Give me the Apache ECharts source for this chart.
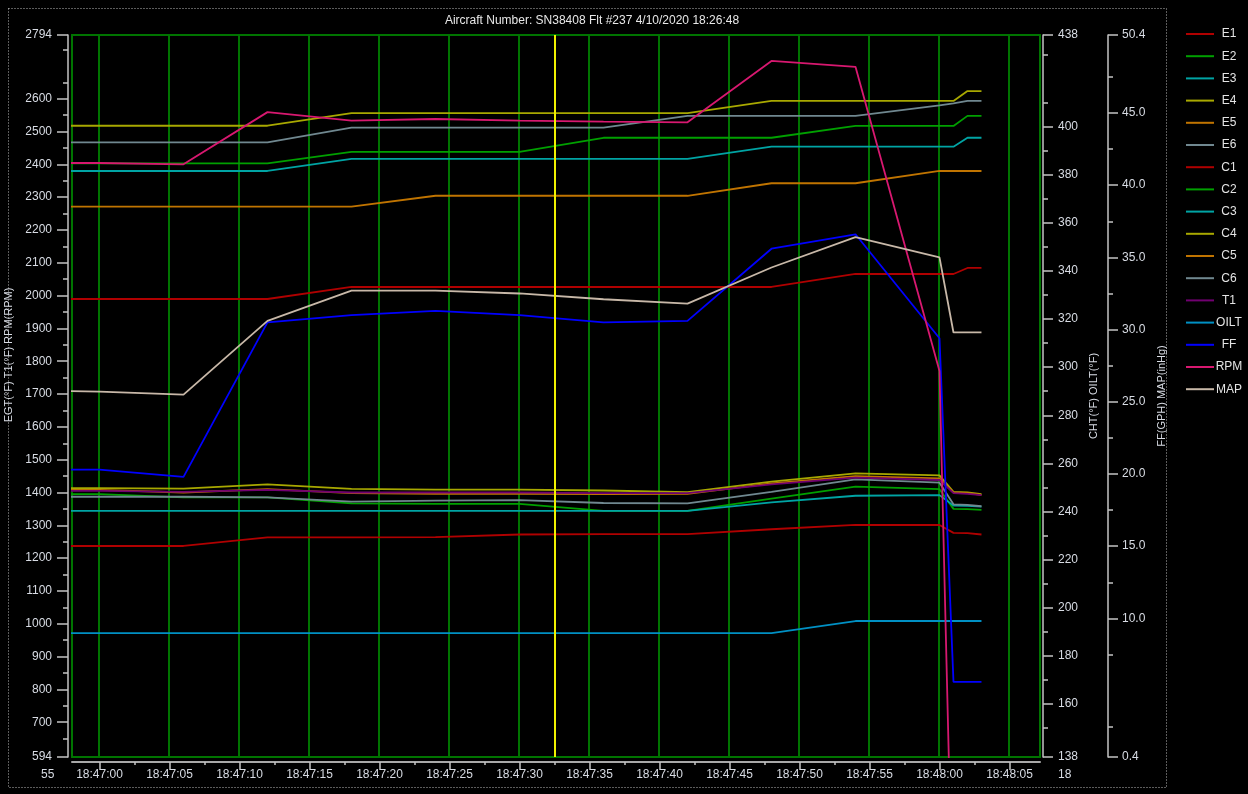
<!DOCTYPE html>
<html>
<head>
<meta charset="utf-8">
<title>Aircraft Number: SN38408 Flt #237</title>
<script src="https://cdn.jsdelivr.net/npm/echarts@6/dist/echarts.min.js"></script>
<style>
  html, body { margin: 0; padding: 0; background: #000; }
  #chart { width: 1248px; height: 794px; }
</style>
</head>
<body>
<div id="chart"></div>
<script>
// Datos: segundos desde 18:47:00
const times = [-6, 0, 6, 12, 18, 24, 30, 36, 42, 48, 54, 60, 61, 62, 63];

// EGT (°F) - eje izquierdo
const E1 = [1237, 1237, 1237, 1263, 1263, 1264, 1272, 1273, 1273, 1288, 1301, 1301, 1277, 1276, 1272];
const E2 = [1395, 1395, 1385, 1385, 1367, 1365, 1365, 1344, 1344, 1381, 1418, 1410, 1350, 1349, 1347];
const E3 = [1344, 1344, 1344, 1344, 1344, 1344, 1344, 1344, 1344, 1370, 1390, 1392, 1360, 1359, 1357];
const E4 = [1413, 1413, 1412, 1425, 1411, 1409, 1409, 1406, 1401, 1433, 1458, 1452, 1402, 1400, 1395];
const E5 = [1408, 1408, 1400, 1410, 1398, 1396, 1396, 1395, 1396, 1428, 1450, 1443, 1400, 1398, 1393];
const E6 = [1387, 1387, 1387, 1385, 1372, 1375, 1377, 1368, 1367, 1402, 1440, 1430, 1364, 1362, 1358];

// CHT (°F) - primer eje derecho
const C1 = [328.3, 328.3, 328.3, 328.3, 333.3, 333.3, 333.3, 333.3, 333.3, 333.3, 338.7, 338.7, 338.7, 341.2, 341.2];
const C2 = [384.7, 384.7, 384.7, 384.7, 389.4, 389.4, 389.4, 395.3, 395.3, 395.3, 400.2, 400.2, 400.2, 404.4, 404.4];
const C3 = [381.5, 381.5, 381.5, 381.5, 386.5, 386.5, 386.5, 386.5, 386.5, 391.6, 391.6, 391.6, 391.6, 395.3, 395.3];
const C4 = [400.3, 400.3, 400.3, 400.3, 405.5, 405.5, 405.5, 405.5, 405.5, 410.6, 410.6, 410.6, 410.6, 414.7, 414.7];
const C5 = [366.7, 366.7, 366.7, 366.7, 366.7, 371.2, 371.2, 371.2, 371.2, 376.4, 376.4, 381.5, 381.5, 381.5, 381.5];
const C6 = [393.4, 393.4, 393.4, 393.4, 399.5, 399.5, 399.5, 399.5, 404.4, 404.4, 404.4, 408.8, 409.6, 410.6, 410.6];

// T1 (°F), RPM - eje izquierdo
const T1 = [1405, 1405, 1402, 1408, 1400, 1400, 1400, 1398, 1398, 1425, 1445, 1438, 1398, 1396, 1392];
const RPM = [2404, 2404, 2400, 2559, 2533, 2538, 2533, 2530, 2528, 2715, 2697, 1770, 0, 0, 0];

// OILT (°F) - primer eje derecho
const OILT = [189.5, 189.5, 189.5, 189.5, 189.5, 189.5, 189.5, 189.5, 189.5, 189.5, 194.5, 194.5, 194.5, 194.5, 194.5];

// FF (GPH), MAP (inHg) - segundo eje derecho
const FF = [20.3, 20.3, 19.8, 30.5, 31.0, 31.3, 31.0, 30.5, 30.6, 35.6, 36.6, 29.4, 5.6, 5.6, 5.6];
const MAP = [25.8, 25.7, 25.5, 30.6, 32.7, 32.7, 32.5, 32.1, 31.8, 34.3, 36.4, 35.0, 29.8, 29.8, 29.8];

// Marcas de ejes
const xMajor = [0, 5, 10, 15, 20, 25, 30, 35, 40, 45, 50, 55, 60, 65];
const xMinor = [2.5, 7.5, 12.5, 17.5, 22.5, 27.5, 32.5, 37.5, 42.5, 47.5, 52.5, 57.5, 62.5];
const leftLabels = [594, 700, 800, 900, 1000, 1100, 1200, 1300, 1400, 1500, 1600, 1700, 1800, 1900, 2000, 2100, 2200, 2300, 2400, 2500, 2600, 2794];
const leftMinor = [650, 750, 850, 950, 1050, 1150, 1250, 1350, 1450, 1550, 1650, 1750, 1850, 1950, 2050, 2150, 2250, 2350, 2450, 2550, 2650, 2750];
const chtLabels = [138, 160, 180, 200, 220, 240, 260, 280, 300, 320, 340, 360, 380, 400, 438];
const chtMinor = [150, 170, 190, 210, 230, 250, 270, 290, 310, 330, 350, 370, 390, 410, 430];
const ffLabels = [0.4, 10, 15, 20, 25, 30, 35, 40, 45, 50.4];
const ffMinor = [2.5, 7.5, 12.5, 17.5, 22.5, 27.5, 32.5, 37.5, 42.5, 47.5];
const cursorTime = [32.6];

document.addEventListener('DOMContentLoaded', function() {
    const chart = echarts.init(document.getElementById('chart'));
    const font = 'Liberation Sans, Arial, sans-serif';
    const txt = '#d8dce4';
    const axisGray = '#c4c4c4';
    const gridGreen = '#007400';
    const base = 18 * 3600 + 47 * 60;

    function fmtTime(v) {
        const s = Math.round(base + v);
        const pad = n => String(n).padStart(2, '0');
        return pad(Math.floor(s / 3600)) + ':' + pad(Math.floor(s / 60) % 60) + ':' + pad(s % 60);
    }

    function pairs(vals) {
        return times.map((t, i) => [t, vals[i]]);
    }

    // Linea vertical a lo alto de la rejilla (serie custom), 2px alineada a pixel
    function vLines(name, values, color, width, z) {
        return {
            name: name,
            type: 'custom',
            silent: true,
            z: z,
            clip: true,
            data: values.map(v => [v]),
            encode: { x: 0 },
            renderItem: function(params, api) {
                const xc = api.coord([api.value(0), 0])[0];
                const x = 2 * Math.floor(xc / 2) + 1;
                const cs = params.coordSys;
                return {
                    type: 'line',
                    shape: { x1: x, y1: cs.y, x2: x, y2: cs.y + cs.height },
                    style: { stroke: color, lineWidth: width }
                };
            }
        };
    }

    const defs = [
        ['E1', E1, 0, '#b00000'], ['E2', E2, 0, '#00a000'], ['E3', E3, 0, '#00a4a4'],
        ['E4', E4, 0, '#a8a800'], ['E5', E5, 0, '#c07400'], ['E6', E6, 0, '#708890'],
        ['C1', C1, 1, '#b00000'], ['C2', C2, 1, '#00a000'], ['C3', C3, 1, '#00a4a4'],
        ['C4', C4, 1, '#a8a800'], ['C5', C5, 1, '#c07400'], ['C6', C6, 1, '#708890'],
        ['T1', T1, 0, '#700070'], ['OILT', OILT, 1, '#0090c4'], ['FF', FF, 2, '#0000ff'],
        ['RPM', RPM, 0, '#d81870'], ['MAP', MAP, 2, '#c8b8a8']
    ];

    const series = defs.map(d => ({
        name: d[0],
        type: 'line',
        yAxisIndex: d[2],
        data: pairs(d[1]),
        showSymbol: false,
        symbol: 'none',
        z: 2,
        lineStyle: { color: d[3], width: 1.8 },
        itemStyle: { color: d[3] },
        animation: false
    }));

    series.unshift(vLines('vgrid', xMajor, gridGreen, 2, 1));
    series.push(vLines('cursor', cursorTime, '#f0f000', 2, 3));

    function yAxisBase(min, max, pos, offset) {
        return {
            type: 'value', min: min, max: max, position: pos, offset: offset,
            splitLine: { show: false },
            axisLine: { show: true, onZero: false, lineStyle: { color: axisGray, width: 1.5 } }
        };
    }

    function minorAxis(min, max, pos, offset, ticks) {
        return Object.assign(yAxisBase(min, max, pos, offset), {
            axisLine: { show: false, onZero: false },
            axisLabel: { show: false },
            axisTick: { show: true, length: 5, customValues: ticks, lineStyle: { color: axisGray, width: 1.5 } }
        });
    }

    chart.setOption({
        backgroundColor: '#000',
        animation: false,
        title: {
            text: 'Aircraft Number: SN38408 Flt #237 4/10/2020 18:26:48',
            left: 587,
            top: 10,
            textAlign: 'center',
            textStyle: { color: '#e8e8e8', fontSize: 12, fontWeight: 'normal', fontFamily: font }
        },
        legend: {
            orient: 'vertical',
            left: 1181,
            top: 22,
            icon: 'rect',
            itemWidth: 28,
            itemHeight: 2,
            itemGap: 8.2,
            data: defs.map(d => d[0]),
            formatter: '{a|{name}}',
            textStyle: {
                color: '#e4e4e4', fontSize: 12, lineHeight: 14, fontFamily: font,
                rich: { a: { width: 20, align: 'center', color: '#e4e4e4', fontSize: 12, lineHeight: 14, fontFamily: font } }
            }
        },
        grid: {
            left: 72, right: 208, top: 35, bottom: 37,
            containLabel: false,
            outerBoundsMode: 'none',
            show: true, borderColor: gridGreen, borderWidth: 2, backgroundColor: '#000'
        },
        xAxis: [
            {
                type: 'value', min: -1.964, max: 67.18, position: 'bottom', offset: 5,
                splitLine: { show: false },
                axisLine: { show: true, onZero: false, lineStyle: { color: '#a8a8a8', width: 2 } },
                axisTick: { show: true, length: 8, customValues: xMajor, lineStyle: { color: axisGray, width: 1.5 } },
                axisLabel: {
                    customValues: xMajor, formatter: fmtTime, margin: 7,
                    color: txt, fontSize: 12, fontFamily: font
                }
            },
            {
                type: 'value', min: -1.964, max: 67.18, position: 'bottom', offset: 5,
                splitLine: { show: false },
                axisLine: { show: false, onZero: false },
                axisLabel: { show: false },
                axisTick: { show: true, length: 3, customValues: xMinor, lineStyle: { color: axisGray, width: 1.5 } }
            }
        ],
        yAxis: [
            Object.assign(yAxisBase(594, 2794, 'left', 4), {
                name: 'EGT(°F) T1(°F) RPM(RPM)',
                nameLocation: 'middle',
                nameGap: 41,
                nameTextStyle: { color: txt, fontSize: 11, fontFamily: font, padding: [0, 0, 0, 82] },
                axisTick: { show: true, length: 11, customValues: leftLabels, lineStyle: { color: axisGray, width: 1.5 } },
                axisLabel: { customValues: leftLabels, margin: 16, color: txt, fontSize: 12, fontFamily: font, formatter: v => String(v) }
            }),
            Object.assign(yAxisBase(138, 438, 'right', 3), {
                name: 'CHT(°F) OILT(°F)',
                nameLocation: 'middle',
                nameGap: 45,
                nameTextStyle: { color: txt, fontSize: 11, fontFamily: font },
                axisTick: { show: true, length: 10, customValues: chtLabels, lineStyle: { color: axisGray, width: 1.5 } },
                axisLabel: { customValues: chtLabels, margin: 15, color: txt, fontSize: 12, fontFamily: font, formatter: v => String(v) }
            }),
            Object.assign(yAxisBase(0.4, 50.4, 'right', 68), {
                name: 'FF(GPH) MAP(inHg)',
                nameLocation: 'middle',
                nameGap: 48,
                nameTextStyle: { color: txt, fontSize: 11, fontFamily: font },
                axisTick: { show: true, length: 10, customValues: ffLabels, lineStyle: { color: axisGray, width: 1.5 } },
                axisLabel: {
                    customValues: ffLabels, margin: 14, color: txt, fontSize: 12, fontFamily: font,
                    formatter: v => Number(v).toFixed(1)
                }
            }),
            minorAxis(594, 2794, 'left', 4, leftMinor),
            minorAxis(138, 438, 'right', 3, chtMinor),
            minorAxis(0.4, 50.4, 'right', 68, ffMinor)
        ],
        graphic: [
            {
                type: 'rect',
                shape: { x: 8.5, y: 8.5, width: 1158, height: 779 },
                style: { fill: 'none', stroke: '#b8b8b8', lineWidth: 1, lineDash: [1, 2] },
                silent: true
            },
            // etiquetas recortadas en los extremos del eje de tiempo
            { type: 'text', left: 41, top: 769, style: { text: '55', fill: txt, font: '12px ' + font } },
            { type: 'text', left: 1058, top: 769, style: { text: '18', fill: txt, font: '12px ' + font } }
        ],
        series: series
    });
});
</script>
</body>
</html>
